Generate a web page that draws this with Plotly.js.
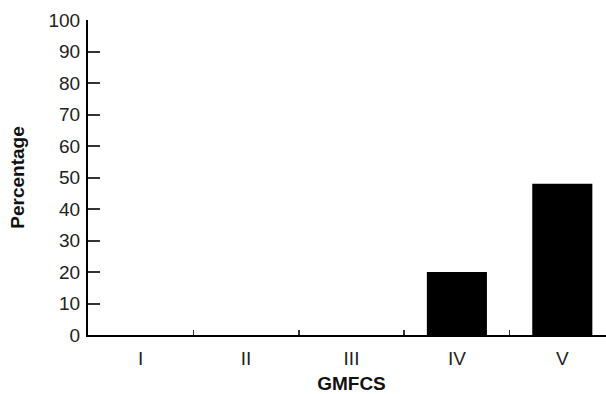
<!DOCTYPE html>
<html>
<head>
<meta charset="utf-8">
<script src="https://cdn.plot.ly/plotly-3.0.1.min.js"></script>
<style>
html,body{margin:0;padding:0;overflow:hidden;background:#fff;}
#chart{width:620px;height:394px;}
</style>
</head>
<body>
<div id="chart"></div>
<script>
const categories = ["I", "II", "III", "IV", "V"];
const percentages = [0, 0, 0, 20, 48];
const yTickValues = [0, 10, 20, 30, 40, 50, 60, 70, 80, 90, 100];

const trace = {
  type: "bar",
  x: categories,
  y: percentages,
  marker: {color: "#000000", line: {color: "#000000", width: 0}},
  hoverinfo: "none"
};

const layout = {
  width: 620,
  height: 394,
  margin: {l: 88, r: 5, t: 20, b: 59},
  paper_bgcolor: "#ffffff",
  plot_bgcolor: "#ffffff",
  bargap: 0.43,
  showlegend: false,
  font: {family: "Liberation Sans, Arial, sans-serif", color: "#222222", size: 19},
  xaxis: {
    type: "category",
    range: [-0.5, 4.5],
    showline: true,
    linecolor: "#000000",
    linewidth: 2,
    ticks: "inside",
    tickson: "boundaries",
    ticklen: 5,
    tickwidth: 1.5,
    tickcolor: "#333333",
    showgrid: false,
    zeroline: false,
    tickfont: {size: 19, color: "#222222"},
    ticklabelstandoff: 5,
    title: {text: "<b>GMFCS</b>", font: {size: 19, color: "#111111"}, standoff: 12}
  },
  yaxis: {
    range: [0, 100],
    tickvals: yTickValues,
    ticktext: yTickValues.map(String),
    showline: true,
    linecolor: "#000000",
    linewidth: 2,
    ticks: "inside",
    ticklen: 12,
    tickwidth: 2,
    tickcolor: "#333333",
    showgrid: false,
    zeroline: false,
    tickfont: {size: 19, color: "#222222"},
    ticklabelstandoff: 2,
    title: {text: "<b>Percentage</b>", font: {size: 19, color: "#111111"}, standoff: 19}
  }
};

Plotly.newPlot("chart", [trace], layout, {displayModeBar: false, staticPlot: true});
</script>
</body>
</html>
